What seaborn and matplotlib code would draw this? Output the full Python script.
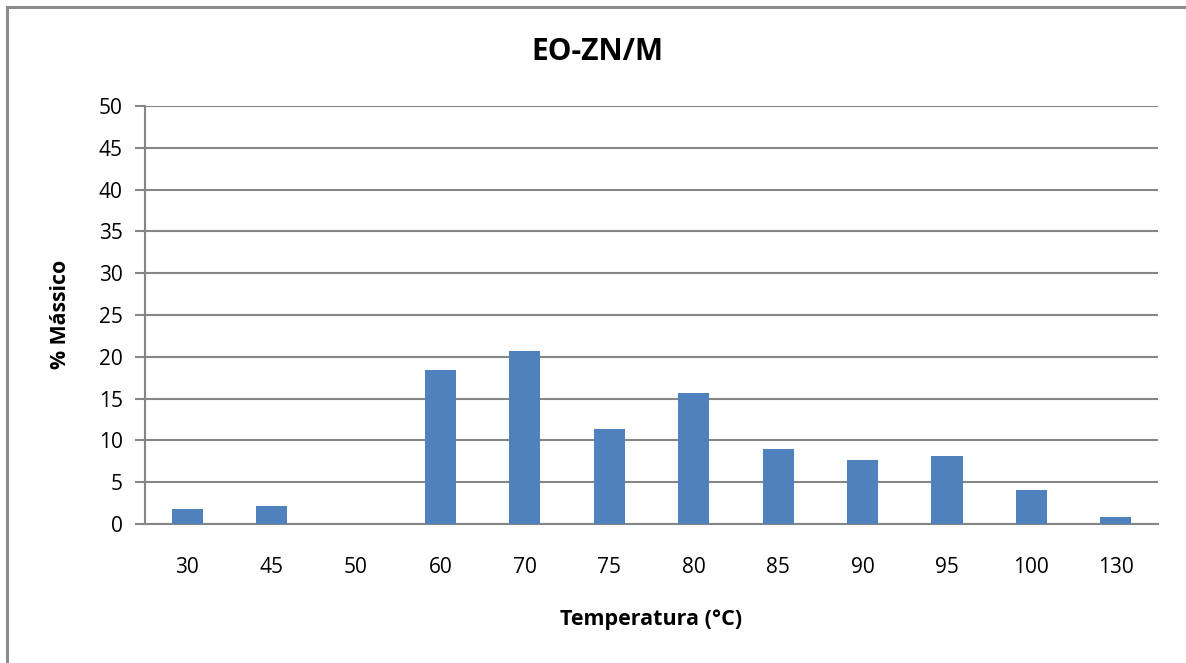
import matplotlib
matplotlib.use("Agg")
import matplotlib.pyplot as plt
import seaborn as sns
import pandas as pd
from matplotlib.patches import Rectangle

temperaturas = ["30", "45", "50", "60", "70", "75", "80", "85", "90", "95", "100", "130"]
massico = [1.8, 2.15, 0.0, 18.4, 20.7, 11.35, 15.65, 9.0, 7.65, 8.1, 4.05, 0.85]
yticks = [0, 5, 10, 15, 20, 25, 30, 35, 40, 45, 50]

sns.set_theme(style="white")
plt.rcParams['font.family'] = ['Open Sans', 'DejaVu Sans']

df = pd.DataFrame({"Temperatura": temperaturas, "Massico": massico})

fig = plt.figure(figsize=(11.86, 6.63), dpi=100)
ax = fig.add_axes([145/1186, 1 - 524/663, (1158-145)/1186, (524-106)/663])

sns.barplot(data=df, x="Temperatura", y="Massico", order=temperaturas,
            color="#4F81BD", saturation=1, width=0.37, linewidth=0, ax=ax, zorder=3)

grid_c = "#868686"
ax.set_ylim(0, 50)
ax.set_yticks(yticks)
ax.set_xlim(-0.5, len(temperaturas) - 0.5)
ax.yaxis.grid(True, color=grid_c, linewidth=1.5, zorder=0)
ax.set_axisbelow(True)
for s in ["top", "right"]:
    ax.spines[s].set_visible(False)
ax.spines["left"].set_color(grid_c)
ax.spines["left"].set_linewidth(1.5)
ax.spines["bottom"].set_color(grid_c)
ax.spines["bottom"].set_linewidth(1.5)
ax.tick_params(axis="y", which="both", left=True, length=7, width=1.5, color=grid_c,
               labelsize=15, pad=9, labelcolor="black")
ax.tick_params(axis="x", which="both", bottom=False, labelsize=15, pad=18, labelcolor="black")
ax.set_xlabel("")
ax.set_ylabel("")

fig.text(597/1186, 1 - 52/663, "EO-ZN/M", ha="center", va="center",
         fontsize=21.5, fontweight="bold", color="black")
fig.text(651/1186, 1 - 620/663, "Temperatura (°C)", ha="center", va="center",
         fontsize=15.5, fontweight="bold", color="black")
fig.text(60/1186, 1 - 314/663, "% Mássico", ha="center", va="center", rotation=90,
         fontsize=15.3, fontweight="bold", color="black")

fig.patches.append(Rectangle((7/1186, -0.1), 1.2, 1 - 7/663 + 0.1, transform=fig.transFigure,
                             fill=False, edgecolor="#8C8C8C", linewidth=2.2))

fig.savefig("out.png", dpi=100, facecolor="white")
